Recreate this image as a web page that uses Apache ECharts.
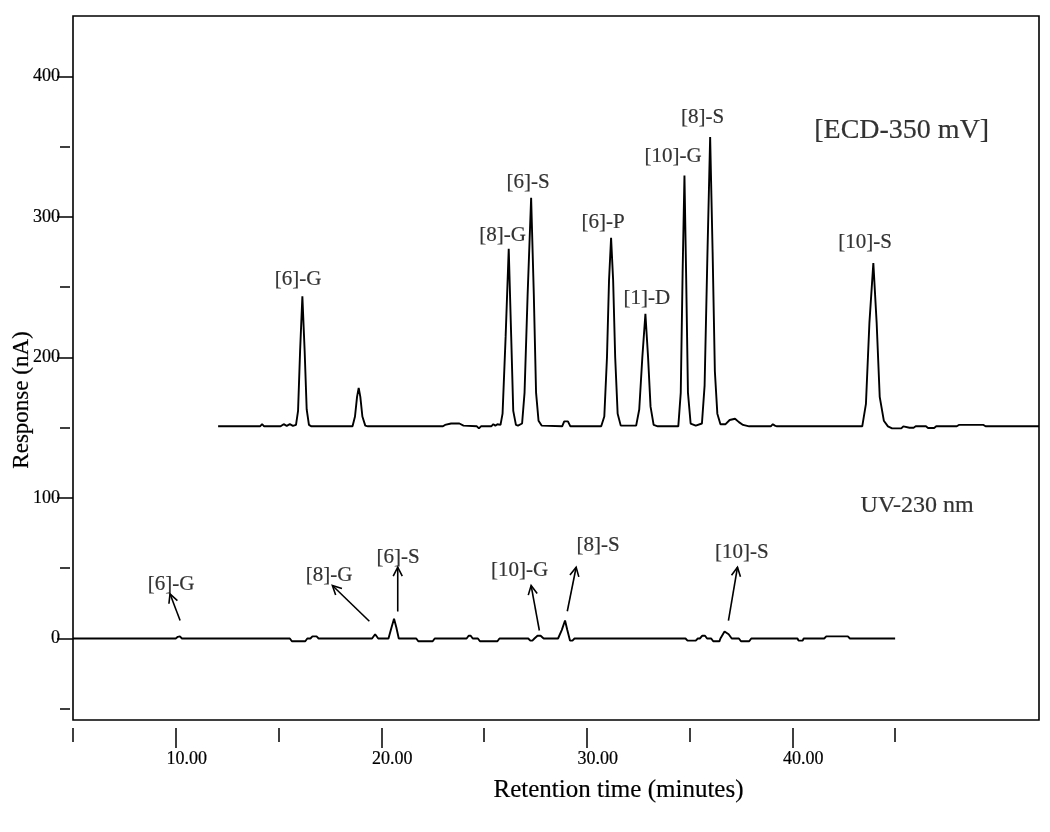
<!DOCTYPE html>
<html>
<head>
<meta charset="utf-8">
<script src="https://cdn.jsdelivr.net/npm/echarts@6/dist/echarts.min.js"></script>
<style>
  html, body { margin: 0; padding: 0; background: #fff; }
  #chart { width: 1050px; height: 832px; }
</style>
</head>
<body>
<div id="chart"></div>
<script>
// ---------- data ----------
// ECD-350 mV trace (retention time in minutes, response in nA)
const ecdTime = [12.06, 14.1, 14.2, 14.3, 15.1, 15.25, 15.4, 15.55, 15.7, 15.85, 15.95, 16.05, 16.16, 16.27, 16.37, 16.48, 16.6,
  18.6, 18.72, 18.82, 18.9, 18.98, 19.08, 19.22, 19.35,
  23.0, 23.1, 23.4, 23.8, 24.0, 24.65, 24.75, 24.85, 25.35, 25.45, 25.55, 25.65, 25.8,
  25.9, 26.05, 26.2, 26.32, 26.42, 26.55, 26.65,
  26.85, 26.97, 27.12, 27.29, 27.42, 27.53, 27.65, 27.8,
  28.8, 28.9, 28.99, 29.08, 29.2,
  30.7, 30.85, 30.98, 31.08, 31.18, 31.28, 31.38, 31.5, 31.65,
  32.4, 32.55, 32.7, 32.85, 32.98, 33.1, 33.25, 33.45,
  34.45, 34.57, 34.66, 34.75, 34.83, 34.92, 35.05, 35.3,
  35.6, 35.73, 35.87, 36.0, 36.12, 36.23, 36.35, 36.5,
  36.75, 36.95, 37.21, 37.4, 37.6, 37.9,
  38.95, 39.05, 39.15, 39.25,
  42.6, 42.65, 42.75, 42.85, 42.9, 43.0,
  43.4, 43.58, 43.75, 43.94, 44.1, 44.25, 44.45, 44.65,
  44.85, 45.3, 45.4, 45.7, 45.9, 46.0, 46.5, 46.6, 46.9, 47.0, 48.0, 48.1, 49.3, 49.4, 52.0];
const ecdResp = [151, 151, 152.5, 151, 151, 152.5, 151.3, 152.5, 151.3, 152, 162, 205, 243.5, 205, 163, 152, 151,
  151, 158, 172, 178.4, 172, 158, 151.5, 151,
  151, 152, 153, 153, 151.5, 151, 149.5, 151, 151, 152.5, 151.5, 152.5, 152,
  160, 215, 277.4, 215, 162, 152, 151.5,
  153, 175, 245, 313.7, 245, 175, 155, 151.5,
  151, 154.5, 155.9, 154.5, 151,
  151, 158, 200, 255, 285.2, 255, 200, 160, 151.5,
  151.5, 163, 200, 231, 200, 165, 152, 151,
  151, 175, 260, 329.5, 260, 175, 153, 151.5,
  153, 180, 275, 356.8, 275, 190, 160, 152.5,
  152.5, 155.5, 156.4, 154, 152, 151,
  151, 152.5, 151.5, 151,
  151, 151.8, 151, 151, 152, 151,
  151, 167, 225, 267.1, 225, 172, 155, 151,
  149.5, 149.5, 151, 150, 150, 151, 151, 149.8, 149.8, 151, 151, 152, 152, 151, 151];

// UV-230 nm trace
const uvTime = [5.0, 10.0, 10.1, 10.2, 10.3, 15.55, 15.65, 16.3, 16.4, 16.55, 16.65, 16.85, 16.95,
  19.55, 19.7, 19.85, 20.35, 20.5, 20.62, 20.73, 20.85, 21.7, 21.8, 22.5, 22.6,
  24.15, 24.25, 24.35, 24.45, 24.7, 24.8, 25.65, 25.75,
  27.15, 27.25, 27.35, 27.45, 27.6, 27.75, 27.9,
  28.6, 28.78, 28.94, 29.05, 29.18, 29.3, 29.4,
  34.8, 34.9, 35.3, 35.4, 35.5, 35.62, 35.75, 35.85, 36.05, 36.15, 36.45, 36.5,
  36.55, 36.7, 36.78, 36.9, 37.05, 37.4, 37.5, 37.9, 38.0,
  40.25, 40.3, 40.5, 40.55, 41.55, 41.65, 42.7, 42.8, 45.0];
const uvResp = [0, 0, 1.2, 1.5, 0, 0, -2, -2, 0, 0, 1.5, 1.5, 0,
  0, 3, 0, 0, 8, 14, 8, 0, 0, -2, -2, 0,
  0, 2, 2, 0, 0, -2, -2, 0,
  0, -1.5, -1.5, 0, 2, 2, 0,
  0, 6, 12.8, 6, -1.5, -1.5, 0,
  0, -1.5, -1.5, 0, 0, 2, 2, 0, 0, -2, -2, 0,
  0, 5, 6.2, 3, 0, 0, -2, -2, 0,
  0, -1.5, -1.5, 0, 0, 1.5, 1.5, 0, 0];

// peak labels on the ECD trace
const ecdLabelText = ['[6]-G', '[8]-G', '[6]-S', '[6]-P', '[1]-D', '[10]-G', '[8]-S', '[10]-S'];
const ecdLabelTime = [15.95, 25.9, 27.14, 30.79, 32.92, 34.2, 35.63, 43.54];
const ecdLabelResp = [255.5, 286.8, 324.6, 296.1, 242, 343, 371, 281.5];

// peak labels on the UV trace
const uvLabelText = ['[6]-G', '[8]-G', '[6]-S', '[10]-G', '[8]-S', '[10]-S'];
const uvLabelTime = [9.77, 17.46, 20.82, 26.73, 30.55, 37.54];
const uvLabelResp = [38.4, 44.8, 57.7, 48.4, 66.2, 61.2];

// arrows from UV peaks to their labels
const arrowFromTime = [10.21, 19.42, 20.8, 27.69, 29.05, 36.89];
const arrowFromResp = [12.8, 12.3, 19.2, 5.7, 19.4, 12.8];
const arrowToTime = [9.72, 17.62, 20.8, 27.29, 29.48, 37.33];
const arrowToResp = [31.8, 37.7, 50.7, 37.7, 50.7, 50.7];

// trace names
const traceNameText = ['[ECD-350 mV]', 'UV-230 nm'];
const traceNameTime = [45.32, 46.07];
const traceNameResp = [361.6, 94.7];

// axis ticks
const xMajorTicks = [10, 20, 30, 40];
const xMinorTicks = [5, 15, 25, 35, 45];
const yMajorTicks = [0, 100, 200, 300, 400];
const yMinorTicks = [-50, 50, 150, 250, 350];

// ---------- chart ----------
const FONT = '"Liberation Serif", "DejaVu Serif", serif';
const zip = (a, b) => a.map((v, i) => [v, b[i]]);
const INK = { color: '#000', textBorderColor: '#000', textBorderWidth: 0.2 };

const xBase = {
  type: 'value', min: 5, max: 52, position: 'bottom', offset: 8,
  axisLine: { show: false, onZero: false }, splitLine: { show: false }
};
const yBase = {
  type: 'value', min: -58, max: 443, position: 'left',
  axisLine: { show: false, onZero: false }, splitLine: { show: false }
};
const labelStyle = Object.assign({
  show: true, position: 'inside', fontFamily: FONT, textShadowBlur: 0
}, INK);

const chart = echarts.init(document.getElementById('chart'), null, { renderer: 'canvas' });
chart.setOption({
  backgroundColor: '#fff',
  animation: false,
  textStyle: { fontFamily: FONT, color: '#000' },
  grid: {
    left: 73, right: 11, top: 16, bottom: 112,
    show: true, borderColor: '#000', borderWidth: 1.6, backgroundColor: 'transparent',
    outerBoundsMode: 'none'
  },
  xAxis: [
    Object.assign({}, xBase, {
      axisTick: { show: true, length: 20, customValues: xMajorTicks, lineStyle: { color: '#000', width: 1.5 } },
      axisLabel: Object.assign({
        show: true, customValues: xMajorTicks, formatter: v => Number(v).toFixed(2),
        fontFamily: FONT, fontSize: 18, margin: 22, padding: [0, 0, 0, 22]
      }, INK),
      name: 'Retention time (minutes)', nameLocation: 'middle', nameGap: 50,
      nameMoveOverlap: false,
      nameTextStyle: Object.assign({ fontFamily: FONT, fontSize: 25, padding: [0, 0, 0, 125] }, INK)
    }),
    Object.assign({}, xBase, {
      axisTick: { show: true, length: 14, customValues: xMinorTicks, lineStyle: { color: '#000', width: 1.5 } },
      axisLabel: { show: false }
    })
  ],
  yAxis: [
    Object.assign({}, yBase, {
      axisTick: { show: true, length: 16, customValues: yMajorTicks, lineStyle: { color: '#000', width: 1.5 } },
      axisLabel: Object.assign({ show: true, customValues: yMajorTicks, fontFamily: FONT, fontSize: 18, margin: 13 }, INK),
      name: 'Response (nA)', nameLocation: 'middle', nameGap: 40,
      nameMoveOverlap: false,
      nameTextStyle: Object.assign({ fontFamily: FONT, fontSize: 23, padding: [0, 64, 0, 0] }, INK)
    }),
    Object.assign({}, yBase, {
      offset: 3,
      axisTick: { show: true, length: 10, customValues: yMinorTicks, lineStyle: { color: '#000', width: 1.5 } },
      axisLabel: { show: false }
    })
  ],
  series: [
    {
      name: 'ECD', type: 'line', xAxisIndex: 0, yAxisIndex: 0,
      data: zip(ecdTime, ecdResp), showSymbol: false, smooth: false,
      lineStyle: { color: '#000', width: 1.9 }, silent: true
    },
    {
      name: 'UV', type: 'line', xAxisIndex: 0, yAxisIndex: 0,
      data: zip(uvTime, uvResp), showSymbol: false, smooth: false,
      lineStyle: { color: '#000', width: 1.9 }, silent: true
    },
    {
      name: 'ECD labels', type: 'scatter', xAxisIndex: 0, yAxisIndex: 0,
      data: ecdLabelText.map((t, i) => [ecdLabelTime[i], ecdLabelResp[i], t]),
      symbolSize: 0, silent: true, itemStyle: { color: '#000' },
      label: Object.assign({}, labelStyle, { fontSize: 21, formatter: p => p.data[2] })
    },
    {
      name: 'UV labels', type: 'scatter', xAxisIndex: 0, yAxisIndex: 0,
      data: uvLabelText.map((t, i) => [uvLabelTime[i], uvLabelResp[i], t]),
      symbolSize: 0, silent: true, itemStyle: { color: '#000' },
      label: Object.assign({}, labelStyle, { fontSize: 21, formatter: p => p.data[2] })
    },
    {
      name: 'Trace names', type: 'scatter', xAxisIndex: 0, yAxisIndex: 0,
      data: traceNameText.map((t, i) => ({
        value: [traceNameTime[i], traceNameResp[i], t],
        label: { fontSize: i === 0 ? 28 : 24 }
      })),
      symbolSize: 0, silent: true, itemStyle: { color: '#000' },
      label: Object.assign({}, labelStyle, { formatter: p => p.data.value[2] })
    },
    {
      name: 'Arrows', type: 'custom', xAxisIndex: 0, yAxisIndex: 0, silent: true,
      data: arrowFromTime.map((t, i) => [t, arrowFromResp[i], arrowToTime[i], arrowToResp[i]]),
      encode: { x: [0, 2], y: [1, 3] },
      renderItem: (params, api) => {
        const p1 = api.coord([api.value(0), api.value(1)]);
        const p2 = api.coord([api.value(2), api.value(3)]);
        const ang = Math.atan2(p2[1] - p1[1], p2[0] - p1[0]);
        const L = 10, a = 0.47;
        const h1 = [p2[0] - L * Math.cos(ang - a), p2[1] - L * Math.sin(ang - a)];
        const h2 = [p2[0] - L * Math.cos(ang + a), p2[1] - L * Math.sin(ang + a)];
        return {
          type: 'group',
          children: [
            { type: 'line', shape: { x1: p1[0], y1: p1[1], x2: p2[0], y2: p2[1] },
              style: { stroke: '#000', lineWidth: 1.6 } },
            { type: 'polyline', shape: { points: [h1, p2, h2] },
              style: { stroke: '#000', fill: null, lineWidth: 1.6 } }
          ]
        };
      }
    }
  ]
});
</script>
</body>
</html>
